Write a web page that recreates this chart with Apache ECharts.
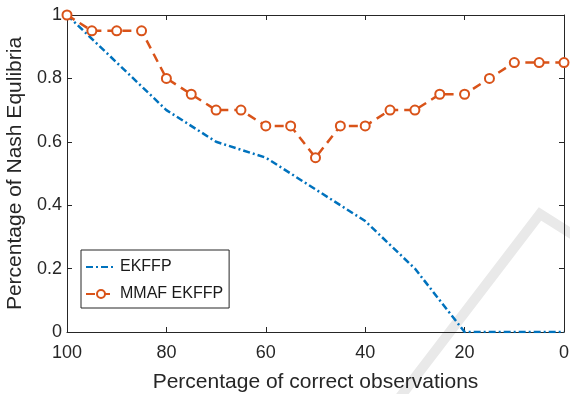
<!DOCTYPE html>
<html>
<head>
<meta charset="utf-8">
<script src="https://cdn.jsdelivr.net/npm/echarts@6/dist/echarts.min.js"></script>
<style>
  html, body { margin: 0; padding: 0; background: #fff; }
  #chart { width: 570px; height: 394px; }
</style>
</head>
<body>
<div id="chart"></div>
<script>
const xEk = [100, 90, 80, 70, 60, 50, 40, 30, 20, 10, 0]
const ekffp = [1, 0.85, 0.7, 0.6, 0.55, 0.45, 0.35, 0.2, 0, 0, 0]

const xMmaf = [100, 95, 90, 85, 80, 75, 70, 65, 60, 55, 50, 45, 40, 35, 30, 25, 20, 15, 10, 5, 0]
const mmaf = [1, 0.95, 0.95, 0.95, 0.8, 0.75, 0.7, 0.7, 0.65, 0.65, 0.55, 0.65, 0.65, 0.7, 0.7, 0.75, 0.75, 0.8, 0.85, 0.85, 0.85]

const xTicks = [100, 80, 60, 40, 20, 0]
const yTicks = [0, 0.2, 0.4, 0.6, 0.8, 1]

const font = "'Liberation Sans', Arial, Helvetica, sans-serif"
const axisColor = '#262626'

const chart = echarts.init(document.getElementById('chart'), null, { renderer: 'canvas' })

const baseX = {
  type: 'value',
  inverse: true,
  min: 0,
  max: 100,
  interval: 20,
  splitLine: { show: false },
  axisLine: { show: true, onZero: false, lineStyle: { color: axisColor, width: 1 } },
  axisTick: { show: true, inside: true, length: 5, lineStyle: { color: axisColor } },
}
const baseY = {
  type: 'value',
  min: 0,
  max: 1,
  interval: 0.2,
  splitLine: { show: false },
  axisLine: { show: true, onZero: false, lineStyle: { color: axisColor, width: 1 } },
  axisTick: { show: true, inside: true, length: 5, lineStyle: { color: axisColor } },
}

chart.setOption({
  animation: false,
  textStyle: { fontFamily: font },
  grid: { left: 67, right: 6, top: 15, bottom: 62, containLabel: false, outerBoundsMode: 'none' },
  graphic: [{
    type: 'polyline',
    silent: true,
    z: -10,
    shape: { points: [[394, 405], [540, 214], [578, 238]] },
    style: { stroke: '#e9e9e9', lineWidth: 10, fill: null },
  }],
  legend: {
    left: 81,
    top: 250,
    orient: 'vertical',
    itemWidth: 30,
    itemHeight: 10,
    itemGap: 11,
    padding: [9, 6, 6, 4],
    borderColor: axisColor,
    borderWidth: 1,
    backgroundColor: '#fff',
    textStyle: { fontFamily: font, fontSize: 16, color: '#1a1a1a', padding: [0, 0, 0, -1] },
    data: [
      { name: 'EKFFP', itemStyle: { opacity: 0 } },
      { name: 'MMAF EKFFP' },
    ],
  },
  xAxis: [
    {
      ...baseX,
      position: 'bottom',
      name: 'Percentage of correct observations',
      nameLocation: 'middle',
      nameGap: 40,
      nameTextStyle: { fontFamily: font, fontSize: 21, color: '#262626' },
      axisLabel: {
        color: '#262626', fontFamily: font, fontSize: 18, margin: 12,
        formatter: (v) => xTicks.includes(v) ? String(v) : '',
      },
    },
    { ...baseX, position: 'top', axisLabel: { show: false } },
  ],
  yAxis: [
    {
      ...baseY,
      position: 'left',
      name: 'Percentage of Nash Equlibria',
      nameLocation: 'middle',
      nameGap: 32,
      nameTextStyle: { fontFamily: font, fontSize: 21, color: '#262626' },
      axisLabel: {
        color: '#262626', fontFamily: font, fontSize: 18, margin: 5,
        formatter: (v) => {
          const t = yTicks.find((y) => Math.abs(y - v) < 1e-9)
          return t === undefined ? '' : String(t)
        },
      },
    },
    { ...baseY, position: 'right', axisLabel: { show: false } },
  ],
  series: [
    {
      name: 'EKFFP',
      type: 'line',
      color: '#0072BD',
      symbol: 'none',
      lineStyle: { width: 2.5, type: [7, 3, 2, 3], color: '#0072BD' },
      data: xEk.map((x, i) => [x, ekffp[i]]),
      z: 3,
    },
    {
      name: 'MMAF EKFFP',
      type: 'line',
      color: '#D95319',
      symbol: 'emptyCircle',
      symbolSize: 9,
      showSymbol: true,
      showAllSymbol: true,
      itemStyle: { color: '#D95319', borderColor: '#D95319', borderWidth: 2.5 },
      lineStyle: { width: 2.5, type: [9, 6], color: '#D95319' },
      data: xMmaf.map((x, i) => [x, mmaf[i]]),
      z: 4,
    },
  ],
})
</script>
</body>
</html>
